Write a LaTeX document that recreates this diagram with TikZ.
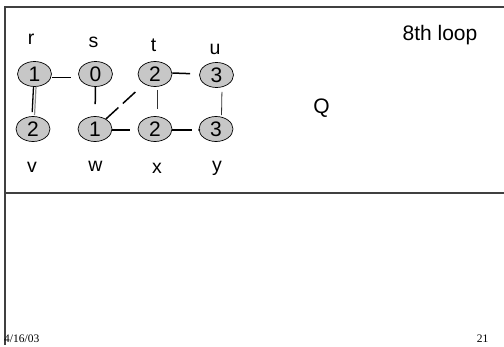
\documentclass[tikz,border=0pt]{standalone}
\usepackage{fontspec}
\usetikzlibrary{shapes.geometric}
\setmainfont{Liberation Sans}
\newfontfamily\footfont{Liberation Serif}
\begin{document}
\begin{tikzpicture}[x=1pt,y=-1pt,
  frame/.style={draw=black!75,line width=1.1pt},
  vtx/.style={ellipse,draw=black,line width=0.7pt,fill=black!22,
    minimum width=34pt,minimum height=25pt,inner sep=0pt,
    font=\fontsize{21}{23}\selectfont},
  lbl/.style={anchor=base,inner sep=0pt,font=\fontsize{19.5}{22}\selectfont},
  edge/.style={draw=black,line width=1.5pt},
  thin/.style={draw=black!80,line width=0.8pt},
  foot/.style={anchor=base,inner sep=0pt,font=\footfont\fontsize{11.5}{13}\selectfont}]
\useasboundingbox (0,0) rectangle (504,347);

% slide frame
\draw[frame] (504,7) -- (5,7) -- (5,345);
\draw[frame] (5,193) -- (504,193);

% vertices with their distances
\node[vtx] (r) at (34.5,74) {1};
\node[vtx] (s) at (95.5,74) {0};
\node[vtx] (t) at (155,74) {2};
\node[vtx] (u) at (216.5,75) {3};
\node[vtx] (v) at (33,129) {2};
\node[vtx] (w) at (95,129) {1};
\node[vtx] (x) at (155,129) {2};
\node[vtx] (y) at (216,129) {3};

% vertex names
\node[lbl] (lr) at (31,45) {r};
\node[lbl] (ls) at (93.5,48) {s};
\node[lbl] (lt) at (153.5,52) {t};
\node[lbl] (lu) at (215,55) {u};
\node[lbl] (lv) at (32,173) {v};
\node[lbl] (lw) at (95.5,172) {w};
\node[lbl] (lx) at (157,174) {x};
\node[lbl] (ly) at (217,172) {y};

% edges
\draw[edge,shorten >=7pt] ([yshift=-3.5pt]r.east) -- ([yshift=-3.5pt]s.west);
\draw[draw=black!45,line width=1.2pt,shorten >=1pt] ([xshift=1.5pt]r.south) -- ([xshift=1.5pt]v.north);
\draw[edge,line width=1.3pt,shorten >=4pt] ([xshift=-1pt]r.south) -- ([xshift=-1pt]v.north);
\draw[edge,shorten >=12pt] (s.south) -- (w.north);
\draw[edge,dash pattern=on 17pt off 6pt,shorten >=9pt] (w) -- (t);
\draw[edge,shorten >=9pt] ([yshift=1pt]t.east) -- ([yshift=1pt]u.west);
\draw[thin,shorten <=3pt,shorten >=7pt] ([xshift=2pt]t.south) -- ([xshift=2pt]x.north);
\draw[thin,shorten <=4pt,shorten >=1pt] ([xshift=5.5pt]u.south) -- ([xshift=5.5pt]y.north);
\draw[edge,shorten >=8pt] ([yshift=-1pt]w.east) -- ([yshift=-1pt]x.west);
\draw[edge,shorten >=7pt] ([yshift=-1pt]x.east) -- ([yshift=-1pt]y.west);
\fill ([xshift=0.5pt,yshift=-1pt]y.west) circle (1.1pt);

% captions
\node[lbl,font=\fontsize{21}{23}\selectfont] (loop) at (440,41) {8th loop};
\node[lbl,font=\fontsize{21}{23}\selectfont] (q) at (321.5,114) {Q};

% footer
\node[foot,anchor=base west] (date) at (4,343) {4/16/03};
\node[foot] (page) at (482.5,343) {21};
\end{tikzpicture}
\end{document}
